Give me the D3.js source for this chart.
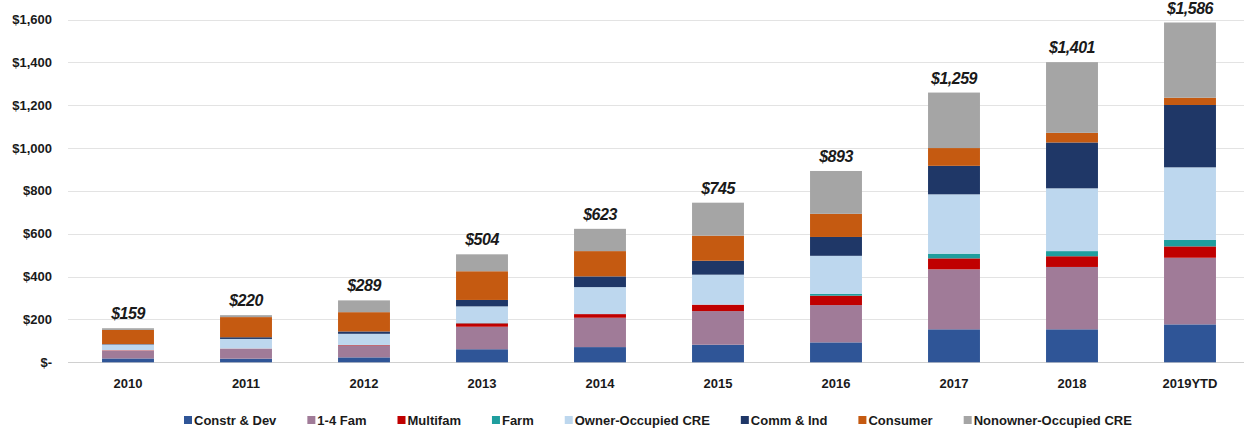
<!DOCTYPE html>
<html>
<head>
<meta charset="utf-8">
<script src="https://cdnjs.cloudflare.com/ajax/libs/d3/7.8.5/d3.min.js"></script>
<style>
  body { margin: 0; background: #fff; }
  svg { display: block; font-family: "Liberation Sans", Arial, sans-serif; }
</style>
</head>
<body>
<svg id="chart" width="1244" height="431"></svg>
<script>
// data ($ millions)
const years = ["2010", "2011", "2012", "2013", "2014", "2015", "2016", "2017", "2018", "2019YTD"];
const seriesNames = ["Constr & Dev", "1-4 Fam", "Multifam", "Farm", "Owner-Occupied CRE", "Comm & Ind", "Consumer", "Nonowner-Occupied CRE"];
const constrDev   = [18, 17, 23, 61, 71, 82, 93, 154, 154, 177];
const oneFourFam  = [36, 46, 56, 105, 137, 157, 174, 280, 291, 311];
const multifam    = [2, 1, 2, 16, 17, 30, 44, 51, 50, 53];
const farm        = [0, 0, 0, 1, 0, 0, 8, 22, 24, 30];
const ownerOccCre = [27, 45, 52, 78, 126, 140, 178, 277, 293, 339];
const commInd     = [2, 8, 11, 30, 50, 65, 88, 133, 214, 291];
const consumer    = [66, 94, 90, 134, 118, 117, 108, 83, 45, 34];
const nonownerCre = [8, 9, 55, 79, 104, 154, 200, 259, 330, 351];
const totals      = [159, 220, 289, 504, 623, 745, 893, 1259, 1401, 1586];
const yTicks      = [0, 200, 400, 600, 800, 1000, 1200, 1400, 1600];

const colors = ["#2f5597", "#a07b98", "#c00000", "#1f9e9e", "#bdd7ee", "#1f3767", "#c55a11", "#a5a5a5"];
const allSeries = [constrDev, oneFourFam, multifam, farm, ownerOccCre, commInd, consumer, nonownerCre];

const svg = d3.select("#chart");

const x = d3.scaleBand().domain(years).range([69, 1249]).paddingInner(0.56).paddingOuter(0.28);
const y = d3.scaleLinear().domain([0, 1600]).range([362.3, 19.5]);

// gridlines
svg.append("g").selectAll("line")
  .data(yTicks)
  .join("line")
  .attr("x1", 68).attr("x2", 1244)
  .attr("y1", d => Math.round(y(d)) + 0.5)
  .attr("y2", d => Math.round(y(d)) + 0.5)
  .attr("stroke", d => d === 0 ? "#d0d0d0" : "#e3e3e3")
  .attr("stroke-width", 1);

// y labels
const fmt = d => d === 0 ? "$-" : "$" + d3.format(",")(d);
svg.append("g").selectAll("text")
  .data(yTicks)
  .join("text")
  .attr("x", 52)
  .attr("y", d => y(d))
  .attr("dy", "0.35em")
  .attr("text-anchor", "end")
  .attr("font-size", 13)
  .attr("font-weight", "bold")
  .attr("fill", "#1a1a1a")
  .text(fmt);

// stacked bars
const rows = years.map((yr, i) => {
  const r = { year: yr };
  seriesNames.forEach((s, k) => r[s] = allSeries[k][i]);
  return r;
});
const stacked = d3.stack().keys(seriesNames)(rows);

svg.append("g").selectAll("g")
  .data(stacked)
  .join("g")
  .attr("fill", (d, i) => colors[i])
  .selectAll("rect")
  .data(d => d)
  .join("rect")
  .attr("x", d => x(d.data.year))
  .attr("width", x.bandwidth())
  .attr("y", d => y(d[1]))
  .attr("height", d => Math.max(0, y(d[0]) - y(d[1])));

// total labels
svg.append("g").selectAll("text")
  .data(years)
  .join("text")
  .attr("x", d => x(d) + x.bandwidth() / 2)
  .attr("y", (d, i) => y(totals[i]) - 9)
  .attr("text-anchor", "middle")
  .attr("font-size", 16)
  .attr("font-weight", "bold")
  .attr("font-style", "italic")
  .attr("letter-spacing", -0.5)
  .attr("fill", "#1a1a1a")
  .text((d, i) => "$" + d3.format(",")(totals[i]));

// x labels
svg.append("g").selectAll("text")
  .data(years)
  .join("text")
  .attr("x", d => x(d) + x.bandwidth() / 2)
  .attr("y", 388)
  .attr("text-anchor", "middle")
  .attr("font-size", 13)
  .attr("font-weight", "bold")
  .attr("fill", "#1a1a1a")
  .text(d => d);

// legend
const legend = svg.append("g").attr("transform", "translate(0,420)");
const items = legend.selectAll("g")
  .data(seriesNames)
  .join("g");
items.append("rect")
  .attr("y", -4).attr("width", 8).attr("height", 8)
  .attr("fill", (d, i) => colors[i]);
items.append("text")
  .attr("x", 10)
  .attr("dy", "0.35em")
  .attr("font-size", 13)
  .attr("font-weight", "bold")
  .attr("fill", "#1a1a1a")
  .text(d => d);

let cx = 184;
items.each(function() {
  const g = d3.select(this);
  g.attr("transform", `translate(${cx},0)`);
  cx += 10 + g.select("text").node().getComputedTextLength() + 31;
});
</script>
</body>
</html>
